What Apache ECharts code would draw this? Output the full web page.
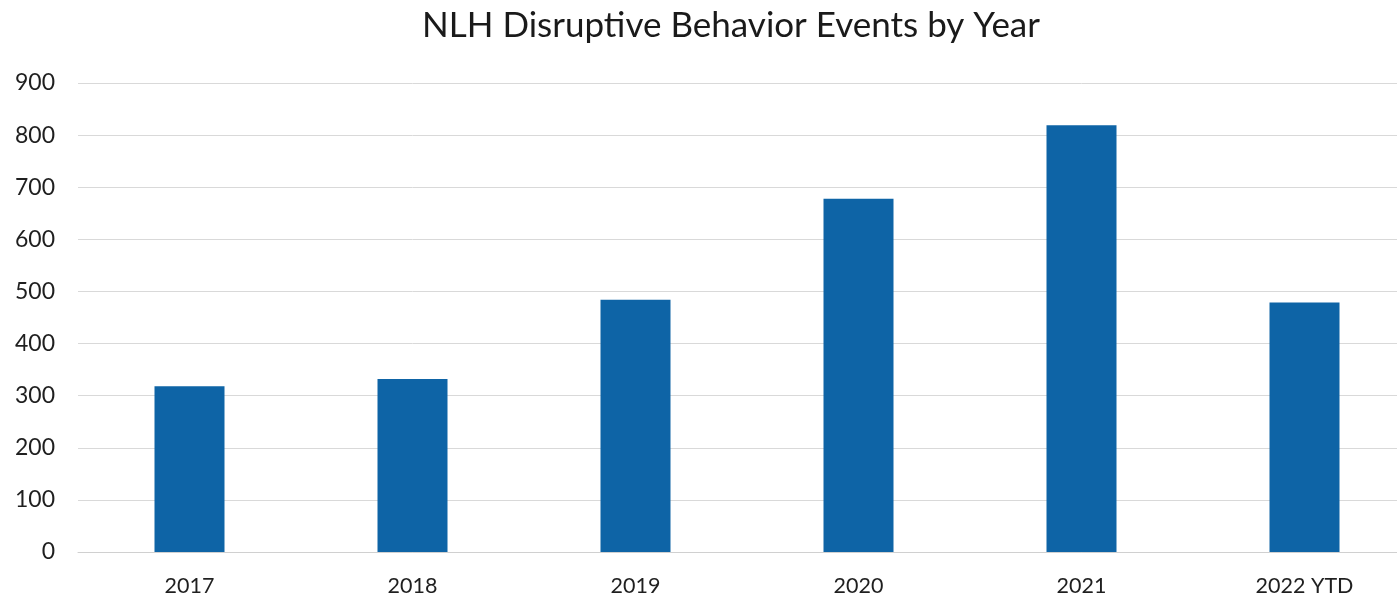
<!DOCTYPE html>
<html><head><meta charset="utf-8">
<script src="https://cdn.jsdelivr.net/npm/echarts@6/dist/echarts.min.js"></script>
<style>html,body{margin:0;padding:0;background:#fff;overflow:hidden;width:1397px;height:597px;}#c{width:1416px;height:597px;}</style>
</head><body><div id="c"></div>
<script>
const categories = ['2017','2018','2019','2020','2021','2022 YTD'];
const events = [318, 332, 484, 678, 819, 479];
const yTicks = [0,100,200,300,400,500,600,700,800,900];

const chart = echarts.init(document.getElementById('c'));
chart.setOption({
  animation: false,
  title: {
    text: 'NLH Disruptive Behavior Events by Year',
    left: 726, top: 3, textAlign: 'center',
    textStyle: { fontFamily: 'Lato', fontSize: 35, fontWeight: 'normal', color: '#1a1a1a' }
  },
  grid: { left: 78, right: 0, top: 83, bottom: 44, containLabel: false },
  xAxis: {
    type: 'category', data: categories,
    axisLine: { lineStyle: { color: '#d0d0d0', width: 1 } },
    axisTick: { show: false },
    axisLabel: { fontFamily: 'Lato', fontSize: 21.5, color: '#1f1f1f', margin: 23 }
  },
  yAxis: {
    type: 'value', min: yTicks[0], max: yTicks[yTicks.length-1], interval: 100,
    axisLine: { show: false }, axisTick: { show: false },
    splitLine: { lineStyle: { color: '#d9d9d9', width: 1 } },
    axisLabel: { fontFamily: 'Lato', fontSize: 23, color: '#1f1f1f', margin: 23 }
  },
  series: [{
    type: 'bar', data: events, barWidth: 70,
    itemStyle: { color: '#0e64a6' }
  }]
});
</script></body></html>
